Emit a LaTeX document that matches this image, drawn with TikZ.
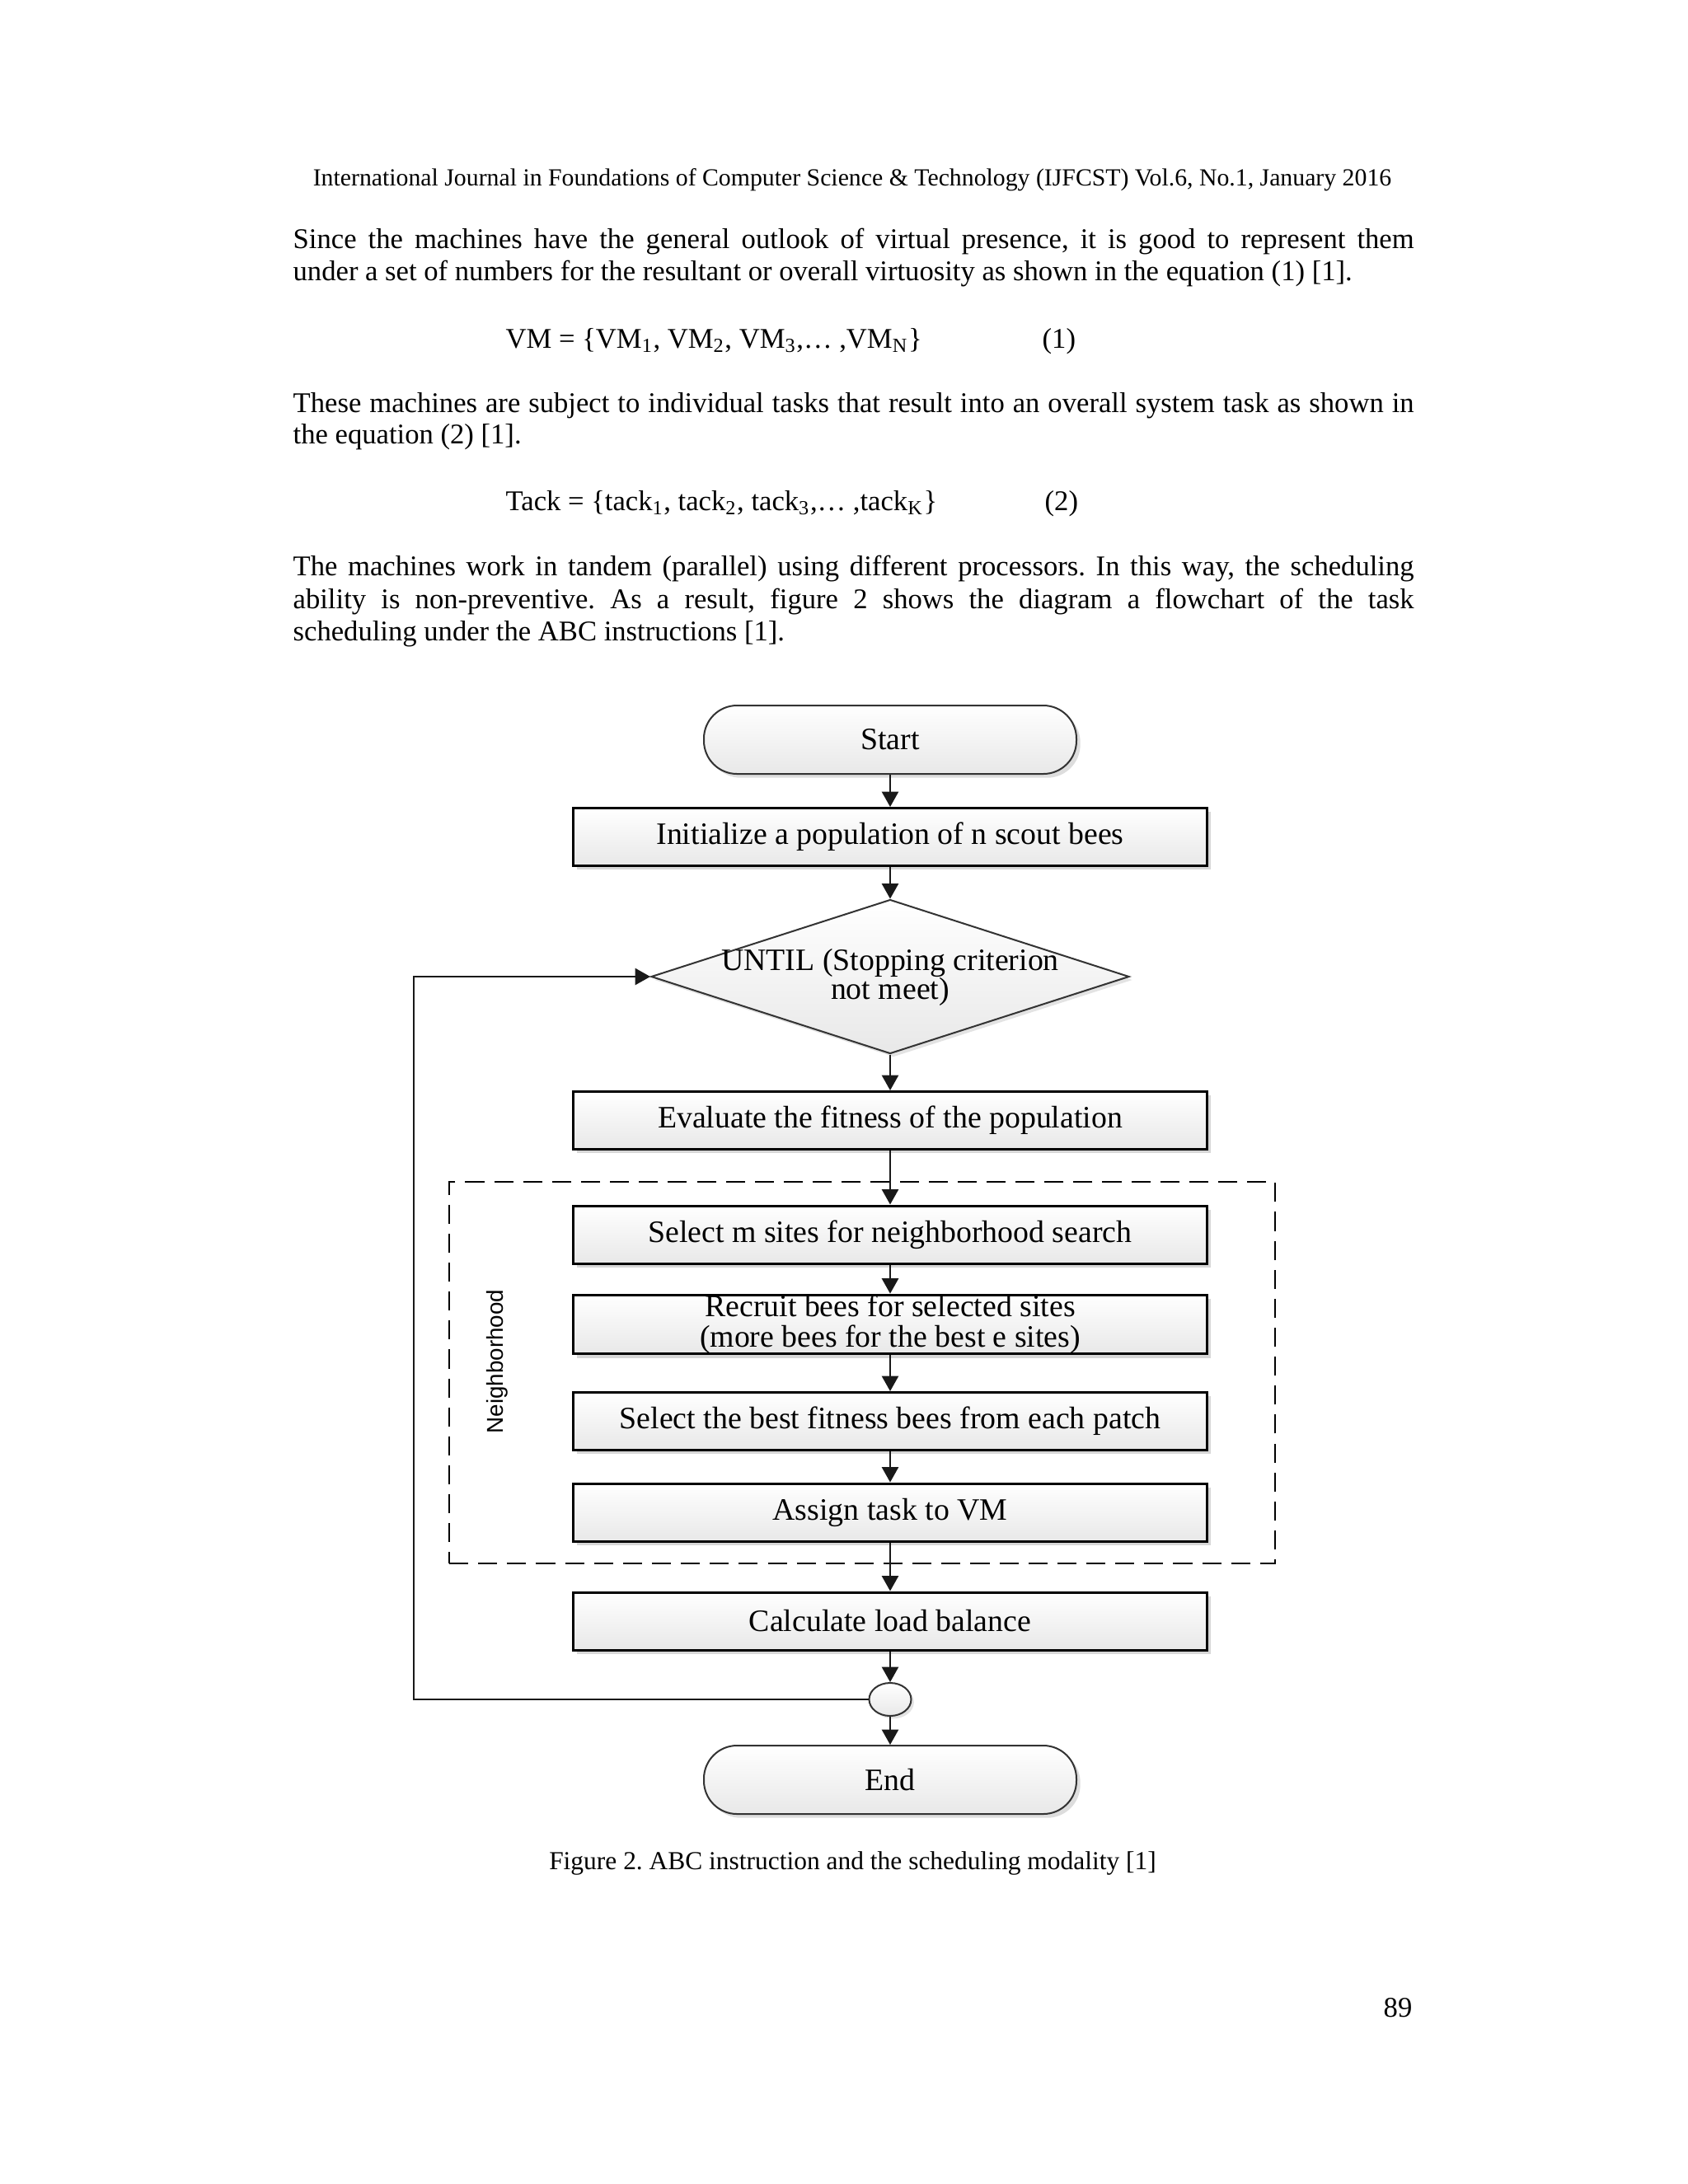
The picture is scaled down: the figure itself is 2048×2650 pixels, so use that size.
\documentclass[tikz,border=0pt]{standalone}
\usepackage{fontspec}
\setmainfont{Liberation Serif}
\newfontfamily\arialf{Liberation Sans}
\usetikzlibrary{arrows.meta,shadows,shapes.geometric}
\newcommand\pxu{0.29883pt}
\frenchspacing
\begin{document}
\begin{tikzpicture}[x=0.29883pt,y=-0.29883pt,
  body/.style={anchor=base west, inner sep=0pt, font=\fontsize{10.35}{11.8}\selectfont},
  procbox/.style={draw=black, line width=0.9pt, top color=white, bottom color=black!9,
    minimum width={769*\pxu}, minimum height={70*\pxu}, inner sep=0pt, align=center,
    font=\fontsize{11.3}{11.1}\selectfont,
    drop shadow={shadow xshift=1.4pt, shadow yshift=-1.4pt, fill=black!22, opacity=0.7}},
  termbox/.style={draw=black!80, line width=0.6pt, rectangle, rounded corners=12pt,
    top color=white, bottom color=black!9,
    minimum width={452*\pxu}, minimum height={83*\pxu}, inner sep=0pt,
    font=\fontsize{11.3}{11.1}\selectfont,
    drop shadow={shadow xshift=1.4pt, shadow yshift=-1.4pt, fill=black!22, opacity=0.6}},
  decbox/.style={draw=black!80, line width=0.6pt, diamond, top color=white, bottom color=black!9,
    minimum width={580*\pxu}, minimum height={187*\pxu}, inner sep=0pt,
    drop shadow={shadow xshift=1.2pt, shadow yshift=-1.2pt, fill=black!18, opacity=0.6}},
  jnbox/.style={draw=black!80, line width=0.6pt, ellipse, top color=white, bottom color=black!9,
    minimum width={51*\pxu}, minimum height={40*\pxu}, inner sep=0pt,
    drop shadow={shadow xshift=1pt, shadow yshift=-1pt, fill=black!18, opacity=0.6}},
  conn/.style={draw=black!90, line width=0.7pt, -{Triangle[length=5.5pt,width=6pt]}},
  groupbox/.style={draw=black, line width=0.75pt, dash pattern=on 6.9pt off 3.6pt,
    minimum width={1002*\pxu}, minimum height={463*\pxu}, inner sep=0pt},
  flowtext/.style={inner sep=0pt, align=center, font=\fontsize{11.3}{10.6}\selectfont}
]
\useasboundingbox (0,0) rectangle (2048,2650);
\fill[white] (0,0) rectangle (2048,2650);

% header
\node[anchor=base, inner sep=0pt, font=\fontsize{8.9}{10}\selectfont] (hdr) at (1034,225)
  {International Journal in Foundations of Computer Science \& Technology (IJFCST) Vol.6, No.1, January 2016};

% paragraph 1
\node[body] (p1a) at (355,301) {\makebox[406.4pt][s]{Since the machines have the general outlook of virtual presence, it is good to represent them}};
\node[body] (p1b) at (355,340) {under a set of numbers for the resultant or overall virtuosity as shown in the equation (1) [1].};

% equation 1
\node[body] (eq1) at (613,422) {VM = \{VM\textsubscript{1}, VM\textsubscript{2}, VM\textsubscript{3},… ,VM\textsubscript{N}\}};
\node[body] (eq1n) at (1264,422) {(1)};

% paragraph 2
\node[body] (p2a) at (355,500) {\makebox[406.4pt][s]{These machines are subject to individual tasks that result into an overall system task as shown in}};
\node[body] (p2b) at (355,538) {the equation (2) [1].};

% equation 2
\node[body] (eq2) at (613,619) {Tack = \{tack\textsubscript{1}, tack\textsubscript{2}, tack\textsubscript{3},… ,tack\textsubscript{K}\}};
\node[body] (eq2n) at (1267,619) {(2)};

% paragraph 3
\node[body] (p3a) at (355,698) {\makebox[406.4pt][s]{The machines work in tandem (parallel) using different processors. In this way, the scheduling}};
\node[body] (p3b) at (355,738) {\makebox[406.4pt][s]{ability is non-preventive. As a result, figure 2 shows the diagram a flowchart of the task}};
\node[body] (p3c) at (355,777) {scheduling under the ABC instructions [1].};

% flowchart
\node[groupbox] (nb) at (1046,1665.5) {};
\node[inner sep=0pt, rotate=90, font=\arialf\fontsize{8.3}{9}\selectfont] (nbl) at (603,1652) {Neighborhood};

\node[termbox] (start) at (1080,897.5) {Start};
\node[procbox] (init) at (1080,1015.5) {Initialize a population of n scout bees};
\node[decbox] (until) at (1080,1185) {};
\node[flowtext] (untilt) at (1080,1186) {UNTIL (Stopping criterion\\not meet)};
\node[procbox] (eval) at (1080,1359.5) {Evaluate the fitness of the population};
\node[procbox] (sel) at (1080,1498) {Select m sites for neighborhood search};
\node[procbox] (rec) at (1080,1607) {Recruit bees for selected sites\\(more bees for the best e sites)};
\node[procbox] (best) at (1080,1724.5) {Select the best fitness bees from each patch};
\node[procbox] (assign) at (1080,1835) {Assign task to VM};
\node[procbox] (calc) at (1080,1967) {Calculate load balance};
\node[jnbox] (jn) at (1080,2062) {};
\node[termbox] (end) at (1080,2159.5) {End};

\coordinate (lp) at (502,2062);

\draw[conn] (start) -- (init);
\draw[conn] (init) -- (until);
\draw[conn] (until) -- (eval);
\draw[conn] (eval) -- (sel);
\draw[conn] (sel) -- (rec);
\draw[conn] (rec) -- (best);
\draw[conn] (best) -- (assign);
\draw[conn] (assign) -- (calc);
\draw[conn] (calc) -- (jn);
\draw[conn] (jn) -- (end);
\draw[conn] (jn.west) -- (lp) |- (until.west);

% caption and page number
\node[anchor=base, inner sep=0pt, font=\fontsize{9.4}{11}\selectfont] (cap) at (1034.5,2268)
  {Figure 2. ABC instruction and the scheduling modality [1]};
\node[anchor=base east, inner sep=0pt, font=\fontsize{10.35}{11.8}\selectfont] (pg) at (1714,2447) {89};
\end{tikzpicture}
\end{document}
